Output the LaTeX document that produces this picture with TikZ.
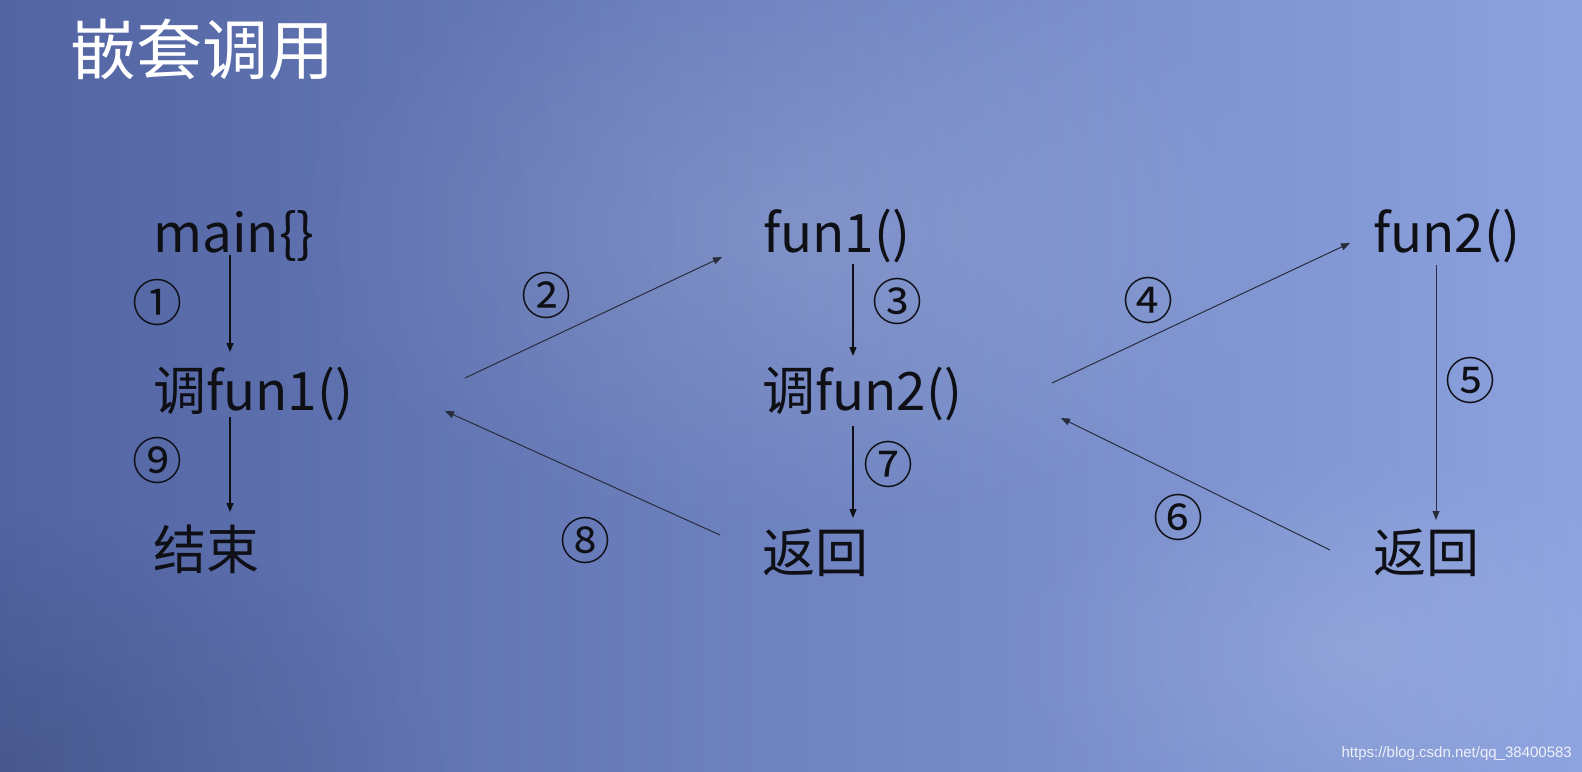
\documentclass[tikz,border=0pt]{standalone}
\usepackage{fontspec}
\newfontfamily\cjk{Noto Sans CJK SC}
\newfontfamily\wm{Liberation Sans}
\usetikzlibrary{arrows.meta,fadings}
\tikzfading[name=softglow, inner color=transparent!0, outer color=transparent!100]
\definecolor{bgL}{RGB}{82,100,162}
\definecolor{bgM}{RGB}{120,140,208}
\definecolor{bgR}{RGB}{140,162,222}
\definecolor{ink}{RGB}{15,15,22}
\definecolor{thin}{RGB}{40,44,60}
\begin{document}
\begin{tikzpicture}[x=1pt,y=-1pt,
  lbl/.style={inner sep=0pt, anchor=base west, font=\cjk\fontsize{53}{60}\selectfont, text=ink},
  num/.style={inner sep=0pt, font=\cjk\fontsize{50}{52}\selectfont, text=ink},
  flow/.style={draw=ink, line width=1.3pt, -{Triangle[length=9pt,width=7pt]}},
  ret/.style={draw=thin, line width=1pt, -{Triangle[length=9pt,width=7pt]}}]
\useasboundingbox (0,0) rectangle (1582,771);
\shade[left color=bgL, middle color=bgM, right color=bgR] (0,0) rectangle (1582,771);
\fill[white, opacity=0.12, path fading=softglow] (800,230) ellipse (520 and 300);
\fill[white, opacity=0.10, path fading=softglow] (1350,650) ellipse (350 and 200);
\fill[black, opacity=0.12, path fading=softglow] (0,771) ellipse (450 and 260);
% title
\node[anchor=base west, inner sep=0pt, font=\cjk\fontsize{66}{70}\selectfont, text=white] (title) at (70,74) {嵌套调用};
% left column
\node[lbl] (main) at (153,252) {main\{\}};
\node[lbl] (call1) at (153,410) {调fun1()};
\node[lbl] (end) at (153,569) {结束};
% middle column
\node[lbl] (f1) at (763,252) {fun1()};
\node[lbl] (call2) at (762,410) {调fun2()};
\node[lbl] (ret1) at (762,572) {返回};
% right column
\node[lbl] (f2) at (1373,252) {fun2()};
\node[lbl] (ret2) at (1373,572) {返回};
% circled numbers
\node[num] (n1) at (157,302) {①};
\node[num] (n2) at (546,295) {②};
\node[num] (n3) at (897,301) {③};
\node[num] (n4) at (1148,300) {④};
\node[num] (n5) at (1470,380) {⑤};
\node[num] (n6) at (1178,517) {⑥};
\node[num] (n7) at (888,464) {⑦};
\node[num] (n8) at (585,540) {⑧};
\node[num] (n9) at (157,460) {⑨};
% connector ends
\coordinate (a1s) at (230,255); \coordinate (a1e) at (230,352);
\coordinate (a9s) at (230,417); \coordinate (a9e) at (230,512);
\coordinate (a3s) at (853,264); \coordinate (a3e) at (853,356);
\coordinate (a7s) at (853,426); \coordinate (a7e) at (853,518);
\coordinate (a5s) at (1436,265); \coordinate (a5e) at (1436,520);
\coordinate (a2s) at (465,378); \coordinate (a2e) at (722,257);
\coordinate (a8s) at (720,535); \coordinate (a8e) at (445,411);
\coordinate (a4s) at (1052,383); \coordinate (a4e) at (1350,243);
\coordinate (a6s) at (1330,550); \coordinate (a6e) at (1061,418);
\draw[flow] (a1s) -- (a1e);
\draw[flow] (a9s) -- (a9e);
\draw[flow] (a3s) -- (a3e);
\draw[flow] (a7s) -- (a7e);
\draw[ret] (a5s) -- (a5e);
\draw[ret] (a2s) -- (a2e);
\draw[ret] (a8s) -- (a8e);
\draw[ret] (a4s) -- (a4e);
\draw[ret] (a6s) -- (a6e);
% watermark
\node[anchor=base east, inner sep=0pt, font=\wm\fontsize{15}{18}\selectfont, text=white, opacity=0.85] (wm) at (1572,757) {https://blog.csdn.net/qq\_38400583};
\end{tikzpicture}
\end{document}
